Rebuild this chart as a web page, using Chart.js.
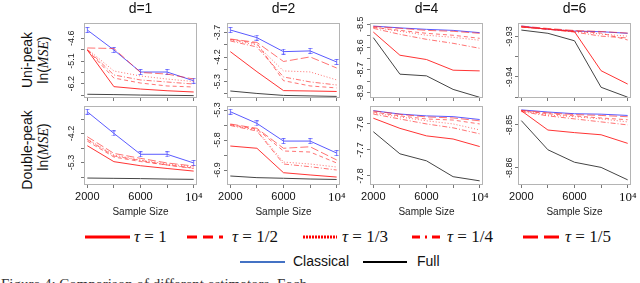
<!DOCTYPE html>
<html>
<head>
<meta charset="utf-8">
<script src="https://cdn.jsdelivr.net/npm/chart.js@4.4.0/dist/chart.umd.min.js"></script>
<style>
  body { margin: 0; width: 640px; height: 283px; overflow: hidden; position: relative; background: #fff;
         font-family: 'Liberation Sans', Arial, sans-serif; color: #111; }
  canvas { position: absolute; }
  .title { position: absolute; top: 0; font-size: 14px; transform: translateX(-50%); white-space: nowrap; }
  .rot { position: absolute; transform: translate(-50%, -50%) rotate(-90deg); white-space: nowrap; font-size: 14px; }
  .rot i { font-family: 'Liberation Serif', serif; }
  .xname { position: absolute; top: 206px; font-size: 10px; transform: translateX(-50%); white-space: nowrap; color: #222; }
  .caption { position: absolute; left: 1px; top: 276px; font-size: 15px; font-family: 'Liberation Serif', serif; color: #333; white-space: nowrap; }
</style>
</head>
<body>

<div class="rot" style="left:27px;top:60px">Uni-peak</div>
<div class="rot" style="left:43px;top:60px">ln(<i>MSE</i>)</div>
<div class="rot" style="left:27px;top:150px">Double-peak</div>
<div class="rot" style="left:43px;top:147px">ln(<i>MSE</i>)</div>

<svg style="position:absolute;left:0;top:222px" width="640" height="52">
  <g stroke="#ff0000" stroke-width="3" fill="none">
    <line x1="85" y1="15" x2="130" y2="15"/>
    <line x1="187" y1="15" x2="223" y2="15" stroke-dasharray="10 6"/>
    <line x1="303" y1="15" x2="337" y2="15" stroke-dasharray="2 1"/>
    <line x1="412" y1="15" x2="443" y2="15" stroke-dasharray="8 5 2 5"/>
    <line x1="523" y1="15" x2="560" y2="15" stroke-dasharray="15 6"/>
  </g>
  <g font-family="Liberation Serif, serif" font-size="17" fill="#111" dominant-baseline="middle">
    <text x="134" y="16"><tspan font-style="italic">τ</tspan> = 1</text>
    <text x="232" y="16"><tspan font-style="italic">τ</tspan> = 1/2</text>
    <text x="342" y="16"><tspan font-style="italic">τ</tspan> = 1/3</text>
    <text x="447" y="16"><tspan font-style="italic">τ</tspan> = 1/4</text>
    <text x="565" y="16"><tspan font-style="italic">τ</tspan> = 1/5</text>
  </g>
  <line x1="240" y1="40" x2="285" y2="40" stroke="#4472c4" stroke-width="2"/>
  <line x1="363" y1="40" x2="407" y2="40" stroke="#000" stroke-width="2"/>
  <g font-family="Liberation Sans, sans-serif" font-size="14" fill="#111" dominant-baseline="middle">
    <text x="293" y="40">Classical</text>
    <text x="417" y="40">Full</text>
  </g>
</svg>

<div class="caption">Figure 4: Comparison of different estimators. Each</div>

<script>
// ---- data ----
const sampleSize = [2000, 4000, 6000, 8000, 10000];
const xTickLabels = ['2000', '', '6000', '', '10⁴'];
const dims = ['d=1', 'd=2', 'd=4', 'd=6'];
const seriesNames = ['τ = 1', 'τ = 1/2', 'τ = 1/3', 'τ = 1/4', 'τ = 1/5', 'Classical', 'Full'];

// ln(MSE), in steps of the axis ticks (0 = top tick, growing downward)
// rows: tau 1, 1/2, 1/3, 1/4, 1/5, classical, full
const uniD1 = [
  [1.03, 4.26, 4.47, 4.62, 4.73],
  [1.03, 3.50, 3.94, 4.20, 4.29],
  [0.94, 2.88, 3.32, 3.59, 3.81],
  [0.99, 3.23, 3.67, 3.85, 4.03],
  [0.85, 0.90, 3.01, 3.15, 3.59],
  [-0.73, 1.03, 2.97, 2.97, 3.74],
  [4.93, 4.96, 5.00, 5.02, 5.05]
];
const uniD2 = [
  [1.56, 3.19, 4.73, 4.76, 4.80],
  [0.57, 0.89, 3.92, 4.35, 4.51],
  [0.61, 1.02, 3.13, 3.21, 3.86],
  [0.69, 1.18, 3.62, 4.02, 4.27],
  [0.53, 0.81, 2.36, 1.99, 2.89],
  [-0.20, 0.42, 1.56, 1.50, 2.40],
  [4.76, 4.96, 5.12, 5.16, 5.20]
];
const uniD4 = [
  [0.68, 2.72, 3.10, 4.04, 4.10],
  [0.26, 0.53, 0.79, 0.96, 1.23],
  [0.26, 0.61, 0.96, 1.14, 1.40],
  [0.35, 0.88, 1.32, 1.67, 2.11],
  [0.18, 0.35, 0.53, 0.61, 0.79],
  [0.15, 0.31, 0.44, 0.53, 0.73],
  [1.17, 4.39, 4.54, 5.73, 6.43]
];
const uniD6 = [
  [-0.47, -0.37, -0.24, 1.69, 2.35],
  [-0.49, -0.37, -0.27, -0.17, 0.17],
  [-0.49, -0.37, -0.27, -0.12, -0.02],
  [-0.47, -0.35, -0.22, -0.02, 0.07],
  [-0.52, -0.40, -0.30, -0.25, -0.17],
  [-0.52, -0.36, -0.27, -0.24, -0.16],
  [-0.32, -0.16, 0.21, 2.51, 3.00]
];
const dblD1 = [
  [1.84, 2.94, 3.22, 3.41, 3.59],
  [1.52, 2.62, 2.93, 3.17, 3.38],
  [1.38, 2.48, 2.83, 3.10, 3.31],
  [1.41, 2.55, 2.86, 3.17, 3.41],
  [1.22, 2.37, 2.71, 3.03, 3.24],
  [-0.50, 0.99, 2.43, 2.43, 3.03],
  [4.07, 4.09, 4.11, 4.14, 4.16]
];
const dblD2 = [
  [2.40, 2.55, 4.18, 4.33, 4.47],
  [0.97, 1.27, 2.73, 2.80, 3.53],
  [1.00, 1.33, 3.47, 3.60, 3.80],
  [1.03, 1.40, 3.60, 3.78, 4.00],
  [0.93, 1.22, 2.55, 2.45, 3.33],
  [0.11, 0.89, 2.07, 2.07, 2.87],
  [4.40, 4.51, 4.55, 4.60, 4.63]
];
const dblD4 = [
  [-0.22, 0.17, 0.46, 0.58, 0.87],
  [-0.46, -0.31, -0.19, -0.15, 0.00],
  [-0.42, -0.27, -0.12, 0.00, 0.23],
  [-0.38, -0.19, 0.00, 0.15, 0.38],
  [-0.50, -0.37, -0.27, -0.23, -0.12],
  [-0.51, -0.38, -0.31, -0.28, -0.17],
  [0.30, 1.15, 1.42, 2.03, 2.19]
];
const dblD6 = [
  [-0.33, 0.12, 0.18, 0.23, 0.43],
  [-0.33, -0.26, -0.21, -0.16, -0.12],
  [-0.33, -0.23, -0.19, -0.14, -0.07],
  [-0.31, -0.21, -0.14, -0.07, 0.00],
  [-0.34, -0.28, -0.24, -0.22, -0.19],
  [-0.35, -0.30, -0.26, -0.25, -0.22],
  [-0.10, 0.58, 0.87, 0.99, 1.28]
];

// y tick labels, top to bottom, one per tick step
const uniTicks = [
  ['-4.6', '', '-5.1', '', '-6.2', ''],
  ['-3.7', '', '-4.2', '', '-5.3', ''],
  ['-8.5', '', '-8.6', '', '-8.7', '', '-8.9'],
  ['-9.93', '', '-9.94', '']
];
const dblTicks = [
  ['', '-4.2', '', '-5.3', ''],
  ['-5.3', '', '-5.8', '', '-6.9'],
  ['-7.6', '-7.7', '-7.8'],
  ['-8.85', '-8.86']
];
const uniRange = [[-1.35, 5.26], [-0.77, 5.33], [-0.12, 6.49], [-0.67, 3.04]];
const dblRange = [[-0.9, 4.55], [-0.27, 5.0], [-0.69, 2.35], [-0.44, 1.40]];

// ---- layout / style ----
const frameLeft = [84, 227, 370, 518];
const frameWidth = 113;
const rowTop = [23, 106];
const rowHeight = [75, 79];
const labelGap = [12, 9, 9, 8];   // centre of y tick label to frame
const showErrBars = [true, true, false, false];

const redSolid = 'rgba(255,30,30,0.9)';
const redLight = 'rgba(255,40,40,0.65)';
const lineColors = [redSolid, redLight, redLight, redLight, redLight, '#5a5aff', '#444444'];
const lineDash = [[], [4, 3], [1, 2], [5, 2, 1, 2], [8, 3], [], []];

const yFont = { family: 'Liberation Sans', size: 9 };
const measure = document.createElement('canvas').getContext('2d');
measure.font = '9px "Liberation Sans"';

// little error bar used as point marker for the classical estimator
const errBar = document.createElement('canvas');
errBar.width = 5; errBar.height = 6;
const eg = errBar.getContext('2d');
eg.strokeStyle = 'rgba(90,90,255,0.8)';
eg.lineWidth = 1;
eg.beginPath();
eg.moveTo(0.5, 0.5); eg.lineTo(4.5, 0.5);
eg.moveTo(2.5, 0); eg.lineTo(2.5, 6);
eg.moveTo(0.5, 5.5); eg.lineTo(4.5, 5.5);
eg.stroke();

const framePlugin = {
  id: 'frame',
  afterDraw(chart) {
    const a = chart.chartArea, c = chart.ctx;
    c.save();
    c.strokeStyle = '#b4b4b4';
    c.lineWidth = 1;
    c.strokeRect(a.left + 0.5, a.top + 0.5, a.right - a.left - 1, a.bottom - a.top - 1);
    c.restore();
  }
};

function drawPanel(row, col, series, ticks, range) {
  const xh = row === 1 ? 22 : 8;
  const fh = rowHeight[row];
  const canvas = document.createElement('canvas');
  canvas.width = 40 + frameWidth + 14;
  canvas.height = 10 + fh + xh;
  canvas.style.width = canvas.width + 'px';
  canvas.style.height = canvas.height + 'px';
  canvas.style.left = (frameLeft[col] - 40) + 'px';
  canvas.style.top = (rowTop[row] - 10) + 'px';
  document.body.appendChild(canvas);

  const widest = Math.max(...ticks.map(t => measure.measureText(t).width));
  const yPad = labelGap[col] - 3 - widest / 2;
  const bars = showErrBars[col];

  new Chart(canvas, {
    type: 'line',
    data: {
      datasets: series.map((vals, k) => ({
        label: seriesNames[k],
        data: sampleSize.map((x, i) => ({ x: x, y: vals[i] })),
        borderColor: lineColors[k],
        borderDash: lineDash[k],
        borderWidth: 1,
        pointRadius: (k === 5 && bars) ? 3 : 0,
        pointStyle: k === 5 ? errBar : 'circle',
        tension: 0,
        fill: false
      }))
    },
    options: {
      responsive: false,
      animation: false,
      layout: { padding: { left: 0, right: 14, top: 10, bottom: 0 } },
      plugins: { legend: { display: false }, tooltip: { enabled: false } },
      scales: {
        x: {
          type: 'linear', min: 1750, max: 10250,
          afterBuildTicks: s => { s.ticks = sampleSize.map(v => ({ value: v })); },
          afterFit: s => { s.height = xh; },
          grid: { drawOnChartArea: false, drawTicks: true, tickLength: 3, color: '#777' },
          border: { display: false },
          ticks: {
            autoSkip: false, maxRotation: 0, padding: 2, color: '#111',
            font: c => (c.tick && c.tick.value === 10000)
              ? { family: 'Liberation Serif', size: 13 }
              : { family: 'Liberation Sans', size: 11 },
            callback: (v, i) => row === 1 ? xTickLabels[i] : ''
          }
        },
        y: {
          type: 'linear', reverse: true, min: range[0], max: range[1],
          afterBuildTicks: s => { s.ticks = ticks.map((t, i) => ({ value: i })); },
          afterFit: s => { s.width = 40; },
          grid: { drawOnChartArea: false, drawTicks: true, tickLength: 3, color: '#777' },
          border: { display: false },
          ticks: {
            autoSkip: false, minRotation: 90, maxRotation: 90, crossAlign: 'center',
            padding: yPad, color: '#222', font: yFont,
            callback: (v, i) => ticks[i]
          }
        }
      }
    },
    plugins: [framePlugin]
  });
}

const uniData = [uniD1, uniD2, uniD4, uniD6];
const dblData = [dblD1, dblD2, dblD4, dblD6];

for (let col = 0; col < 4; col++) {
  drawPanel(0, col, uniData[col], uniTicks[col], uniRange[col]);
  drawPanel(1, col, dblData[col], dblTicks[col], dblRange[col]);

  const cx = frameLeft[col] + frameWidth / 2;
  const t = document.createElement('div');
  t.className = 'title';
  t.style.left = cx + 'px';
  t.textContent = dims[col];
  document.body.appendChild(t);

  const xn = document.createElement('div');
  xn.className = 'xname';
  xn.style.left = cx + 'px';
  xn.textContent = 'Sample Size';
  document.body.appendChild(xn);
}
</script>
</body>
</html>
